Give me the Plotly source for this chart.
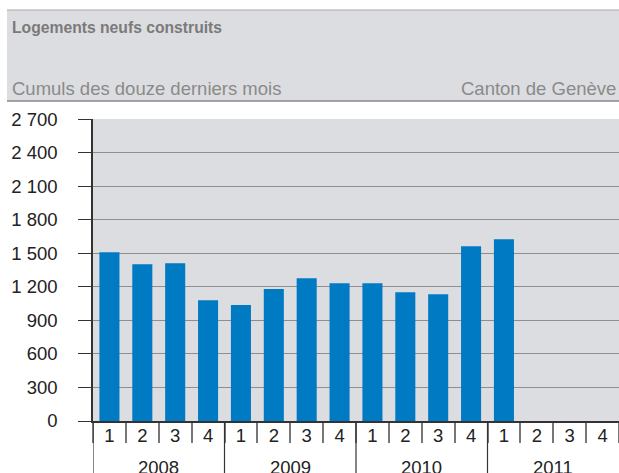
import plotly.graph_objects as go

years = ["2008", "2009", "2010", "2011"]
quarters = ["1", "2", "3", "4"]
values = [1510, 1403, 1412, 1081,
          1037, 1180, 1278, 1233,
          1233, 1153, 1135, 1564,
          1626, None, None, None]
y_ticks = [0, 300, 600, 900, 1200, 1500, 1800, 2100, 2400, 2700]
y_ticklabels = ["0", "300", "600", "900", "1 200", "1 500", "1 800", "2 100", "2 400", "2 700"]
title = "Logements neufs construits"
subtitle = "Cumuls des douze derniers mois"
region = "Canton de Genève"

cats = [f"{y}-{q}" for y in years for q in quarters]
qlabels = [q for y in years for q in quarters]

W, H = 619, 473
L, R, T, B = 93, 0, 119, 52
ph = H - T - B
pw = W - L - R

def py(p):
    return (H - B - p) / ph

def px(p):
    return (p - L) / pw

FONT = "Liberation Sans, Arial, sans-serif"
BAR = "#007ac3"
BG = "#dcdde0"
GRID = "#8e8e8e"
DARK = "#333333"
FS = 18.5

fig = go.Figure()
fig.add_trace(go.Bar(x=cats, y=values, marker=dict(color=BAR, line=dict(width=0)),
                     width=0.61, hoverinfo="skip"))

fig.update_layout(
    width=W, height=H,
    margin=dict(l=L, r=R, t=T, b=B, pad=0),
    paper_bgcolor="white", plot_bgcolor=BG,
    showlegend=False,
    font=dict(family=FONT, size=FS, color="#222222"),
)
fig.update_yaxes(range=[0, 2702], tickvals=y_ticks, ticktext=y_ticklabels,
                 ticks="outside", ticklen=13, tickwidth=1, tickcolor=DARK,
                 showline=True, linecolor=DARK, linewidth=1.5,
                 showgrid=True, gridcolor=GRID, gridwidth=1,
                 zeroline=False, ticklabelstandoff=17,
                 tickfont=dict(size=FS, color="#222222"))
fig.update_xaxes(type="category", categoryorder="array", categoryarray=cats,
                 tickvals=cats, ticktext=qlabels, tickson="boundaries",
                 ticks="outside", ticklen=20, tickwidth=1.5, tickcolor="#777777",
                 showline=True, linecolor=DARK, linewidth=1.5,
                 showgrid=False, zeroline=False, ticklabelstandoff=-3,
                 tickfont=dict(size=FS, color="#222222"),
                 range=[-0.5, len(cats) - 0.5])

shapes = []
# header band
shapes.append(dict(type="rect", xref="paper", yref="paper", x0=px(7), x1=1,
                   y0=py(101), y1=py(10), fillcolor=BG, line=dict(width=0), layer="below"))
shapes.append(dict(type="line", xref="paper", yref="paper", x0=px(7), x1=1,
                   y0=py(10), y1=py(10), line=dict(color="#aaaaaa", width=1)))
shapes.append(dict(type="line", xref="paper", yref="paper", x0=px(7), x1=1,
                   y0=py(101), y1=py(101), line=dict(color="#8a8a8a", width=1.5)))
# year separators
for i in range(len(years)):
    xb = i * len(quarters) - 0.5
    shapes.append(dict(type="line", xref="x", yref="paper", x0=xb, x1=xb,
                       y0=0, y1=py(H + 5), line=dict(color=DARK, width=1.2)))
fig.update_layout(shapes=shapes)

ann = []
for i, y in enumerate(years):
    xc = i * len(quarters) + (len(quarters) - 1) / 2
    ann.append(dict(x=xc, y=py(467), xref="x", yref="paper", text=y, showarrow=False,
                    xanchor="center", yanchor="middle",
                    font=dict(size=FS, color="#222222", family=FONT)))
ann.append(dict(x=px(10), y=py(28), xref="paper", yref="paper", text=f"<b>{title}</b>",
                showarrow=False, xanchor="left", yanchor="middle",
                font=dict(size=15.7, color="#7a7a7a", family=FONT)))
ann.append(dict(x=px(10), y=py(89), xref="paper", yref="paper", text=subtitle,
                showarrow=False, xanchor="left", yanchor="middle",
                font=dict(size=FS, color="#8a8a8a", family=FONT)))
ann.append(dict(x=px(618), y=py(89), xref="paper", yref="paper", text=region,
                showarrow=False, xanchor="right", yanchor="middle",
                font=dict(size=FS, color="#8a8a8a", family=FONT)))
fig.update_layout(annotations=ann)

fig.write_html("out.html", config={"displayModeBar": False},
               post_script="document.body.style.margin='0';")
